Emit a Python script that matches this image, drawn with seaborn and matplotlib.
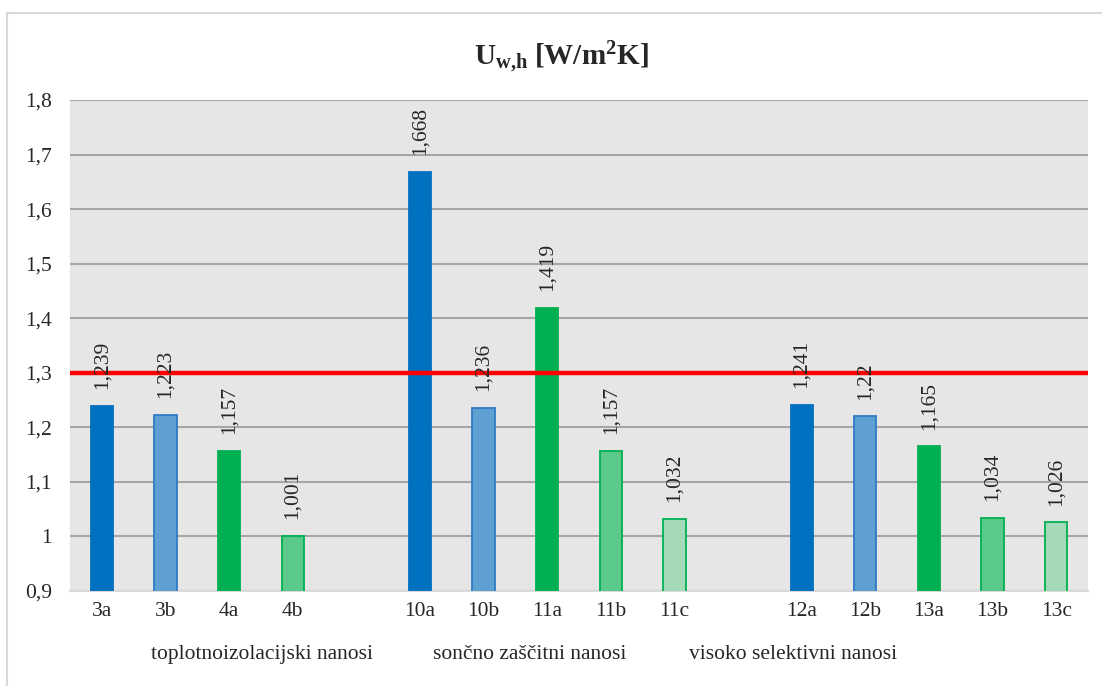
import matplotlib
matplotlib.use("Agg")
import matplotlib.pyplot as plt
import seaborn as sns
import pandas as pd
import numpy as np
from matplotlib.patches import Rectangle

sns.set_theme(style="white")
plt.rcParams['font.family'] = ['Liberation Serif', 'DejaVu Serif']
plt.rcParams['mathtext.fontset'] = 'custom'
plt.rcParams['mathtext.rm'] = 'Liberation Serif'
plt.rcParams['mathtext.bf'] = 'Liberation Serif:bold'
plt.rcParams['mathtext.it'] = 'Liberation Serif:italic'

# ---- data ----
slots = ["3a", "3b", "4a", "4b", "", "10a", "10b", "11a", "11b", "11c", " ", "12a", "12b", "13a", "13b", "13c"]
samples = ["3a", "3b", "4a", "4b", "10a", "10b", "11a", "11b", "11c", "12a", "12b", "13a", "13b", "13c"]
values = [1.239, 1.223, 1.157, 1.001, 1.668, 1.236, 1.419, 1.157, 1.032, 1.241, 1.22, 1.165, 1.034, 1.026]
value_labels = ["1,239", "1,223", "1,157", "1,001", "1,668", "1,236", "1,419", "1,157", "1,032",
                "1,241", "1,22", "1,165", "1,034", "1,026"]
groups = ["toplotnoizolacijski nanosi", "sončno zaščitni nanosi", "visoko selektivni nanosi"]
y_ticks = [0.9, 1.0, 1.1, 1.2, 1.3, 1.4, 1.5, 1.6, 1.7, 1.8]
y_tick_labels = ["0,9", "1", "1,1", "1,2", "1,3", "1,4", "1,5", "1,6", "1,7", "1,8"]
limit_value = 1.3
title = r"$\mathbf{U_{w{,}h}\ [W/m^{2}K]}$"

# styles
kind = ["A", "B", "C", "D", "A", "B", "C", "D", "E", "A", "B", "C", "D", "E"]
fill = {"A": "#0070C0", "B": "#5FA0D2", "C": "#00B050", "D": "#5CC98C", "E": "#A5DAB8"}
edge = {"A": "#0070C0", "B": "#2E7BC4", "C": "#00B050", "D": "#00B050", "E": "#00B050"}

df = pd.DataFrame({"sample": samples, "value": values})
palette = {s: fill[k] for s, k in zip(samples, kind)}

fig = plt.figure(figsize=(11.02, 6.86), dpi=100)
ax = fig.add_axes([0.0635, 0.1385, 0.9238, 0.7157])

sns.barplot(data=df, x="sample", y="value", order=slots, hue="sample", palette=palette,
            legend=False, width=0.35, ax=ax, saturation=1)

# edges
slot_index = {s: i for i, s in enumerate(slots)}
for p in ax.patches:
    cx = p.get_x() + p.get_width() / 2
    idx = int(round(cx))
    s = slots[idx]
    if s in samples:
        k = kind[samples.index(s)]
        p.set_edgecolor(edge[k])
        p.set_linewidth(1.3)
        p.set_zorder(3)

FS = 15.5
ax.set_ylim(0.9, 1.8)
ax.set_xlim(-0.5, len(slots) - 0.5)
ax.set_facecolor("#E6E6E6")
ax.set_yticks(y_ticks)
ax.set_yticklabels(y_tick_labels, fontsize=FS)
ax.set_xticks(range(len(slots)))
ax.set_xticklabels(slots, fontsize=FS)
ax.tick_params(axis="both", length=0)
ax.tick_params(axis="y", pad=13)
ax.tick_params(axis="x", pad=8)
ax.set_xlabel("")
ax.set_ylabel("")
ax.yaxis.grid(True, color="#A6A6A6", linewidth=1.5, zorder=0)
ax.set_axisbelow(True)
for sp in ["top", "right", "left"]:
    ax.spines[sp].set_visible(False)
ax.spines["bottom"].set_color("#D9D9D9")
ax.spines["bottom"].set_linewidth(1.5)

# value labels
for s, v, lab in zip(samples, values, value_labels):
    ax.annotate(lab, (slot_index[s], v), xytext=(0, 12), textcoords="offset points",
                rotation=90, ha="center", va="bottom", fontsize=FS, zorder=5)

# limit line
ax.axhline(limit_value, color="#FF0000", linewidth=3.2, zorder=4)

# group labels
group_pos = [2.52, 6.73, 10.87]
for g, gx in zip(groups, group_pos):
    ax.text(gx, -0.13, g, transform=ax.get_xaxis_transform(), ha="center", va="center", fontsize=FS)

# title
fig.text(0.509, 0.915, title, ha="center", va="center", fontsize=21, fontweight="bold")

# outer border
fig.patches.append(Rectangle((7 / 1102, -0.01), 1.1, 1 - 13 / 686 + 0.01, transform=fig.transFigure,
                             fill=False, edgecolor="#D9D9D9", linewidth=1.5))

fig.savefig("out.png", dpi=100)
